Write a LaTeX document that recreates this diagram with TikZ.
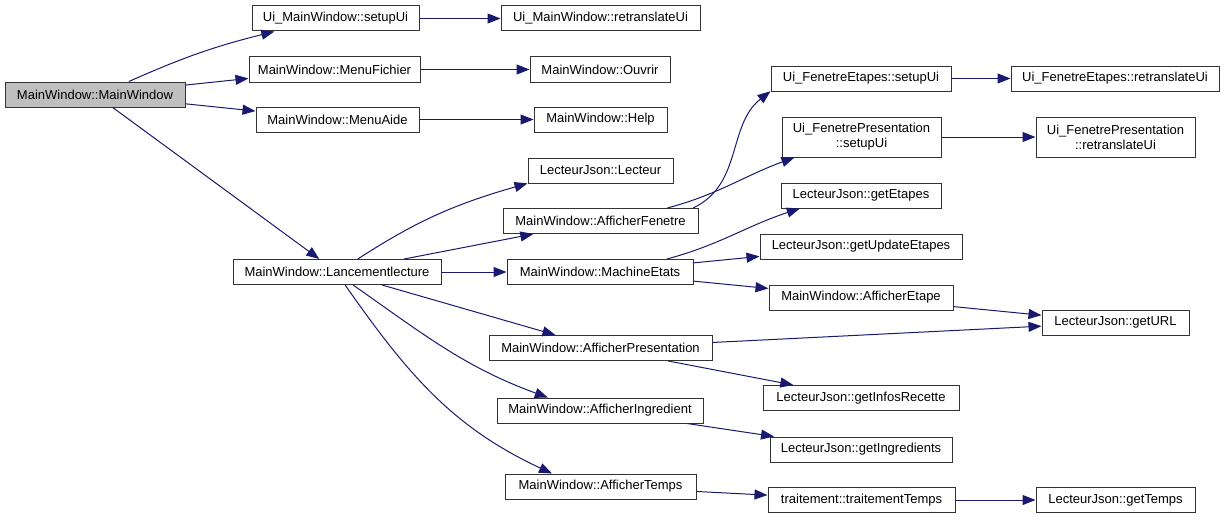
\documentclass[tikz,border=0pt]{standalone}
\usepackage{fontspec}
\setmainfont{Liberation Sans}
\usepackage{xcolor}
\definecolor{cEdge}{HTML}{191970}
\definecolor{cRoot}{HTML}{BFBFBF}
\definecolor{cLine}{HTML}{333333}
\usepackage{tikz}
\usetikzlibrary{arrows.meta}
\tikzset{
  node-box/.style={draw=cLine,line width=1pt,fill=white,minimum height=25pt,
    inner sep=0pt,align=center,font=\fontsize{13}{15}\selectfont},
  node-root/.style={fill=cRoot},
  node-tall/.style={minimum height=40pt},
  arrow/.style={-{Triangle[length=13pt,width=10pt]},line width=1pt,draw=cEdge},
}

\begin{document}
\begin{tikzpicture}[x=1pt,y=1pt]
  \useasboundingbox (0,0) rectangle (1225,-519);
  % column 1
  \node[node-box,node-root,minimum width=180] (mw) at (95,-94.5) {MainWindow::MainWindow};
  % column 2
  \node[node-box,minimum width=167] (uiSetup) at (335.5,-18.5) {Ui\_MainWindow::setupUi};
  \node[node-box,minimum width=171] (menuFichier) at (334.5,-69.5) {MainWindow::MenuFichier};
  \node[node-box,minimum width=163] (menuAide) at (337.5,-119.5) {MainWindow::MenuAide};
  \node[node-box,minimum width=208] (lancement) at (337,-272) {MainWindow::Lancementlecture};
  % column 3
  \node[node-box,minimum width=199] (uiRetranslate) at (600.5,-18.5) {Ui\_MainWindow::retranslateUi};
  \node[node-box,minimum width=140] (ouvrir) at (600,-69.5) {MainWindow::Ouvrir};
  \node[node-box,minimum width=133] (help) at (600.5,-119.5) {MainWindow::Help};
  \node[node-box,minimum width=145] (lecteur) at (600.5,-170.5) {LecteurJson::Lecteur};
  \node[node-box,minimum width=195] (affFenetre) at (600.5,-221) {MainWindow::AfficherFenetre};
  \node[node-box,minimum width=186] (machine) at (600,-272) {MainWindow::MachineEtats};
  \node[node-box,minimum width=223] (affPresentation) at (600.5,-348) {MainWindow::AfficherPresentation};
  \node[node-box,minimum width=206] (affIngredient) at (600,-410.5) {MainWindow::AfficherIngredient};
  \node[node-box,minimum width=191] (affTemps) at (600.5,-486.5) {MainWindow::AfficherTemps};
  % column 4
  \node[node-box,minimum width=180] (etapesSetup) at (861,-78.5) {Ui\_FenetreEtapes::setupUi};
  \node[node-box,node-tall,minimum width=159] (presSetup) at (861.5,-137) {Ui\_FenetrePresentation\\::setupUi};
  \node[node-box,minimum width=160] (getEtapes) at (861,-195.5) {LecteurJson::getEtapes};
  \node[node-box,minimum width=202] (getUpdate) at (861,-246.5) {LecteurJson::getUpdateEtapes};
  \node[node-box,minimum width=184] (affEtape) at (861,-297.5) {MainWindow::AfficherEtape};
  \node[node-box,minimum width=196] (getInfos) at (861,-398) {LecteurJson::getInfosRecette};
  \node[node-box,minimum width=182] (getIngredients) at (861,-449.5) {LecteurJson::getIngredients};
  \node[node-box,minimum width=187] (traitement) at (861.5,-500) {traitement::traitementTemps};
  % column 5
  \node[node-box,minimum width=208] (etapesRetranslate) at (1115,-78.5) {Ui\_FenetreEtapes::retranslateUi};
  \node[node-box,node-tall,minimum width=159] (presRetranslate) at (1115.5,-137) {Ui\_FenetrePresentation\\::retranslateUi};
  \node[node-box,minimum width=147] (getURL) at (1115.5,-322.5) {LecteurJson::getURL};
  \node[node-box,minimum width=159] (getTemps) at (1115.5,-500) {LecteurJson::getTemps};

  % calls
  \draw[arrow] (mw.21) to[out=24,in=194] (uiSetup.192);
  \draw[arrow] (mw) -- (menuFichier);
  \draw[arrow] (mw) -- (menuAide);
  \draw[arrow] (mw) -- (lancement);
  \draw[arrow] (uiSetup) -- (uiRetranslate);
  \draw[arrow] (menuFichier) -- (ouvrir);
  \draw[arrow] (menuAide) -- (help);
  \draw[arrow] (lancement.32) to[out=33,in=196] (lecteur.190);
  \draw[arrow] (lancement) -- (affFenetre);
  \draw[arrow] (lancement) -- (machine);
  \draw[arrow] (lancement) -- (affPresentation);
  \draw[arrow] (lancement.-39) to[out=-35,in=160] (affIngredient.166);
  \draw[arrow] (lancement.-58) to[out=-55,in=155] (affTemps.165);
  \draw[arrow] (affFenetre.8) to[out=25,in=218] (etapesSetup.188);
  \draw[arrow] (affFenetre.11) to[out=15,in=200] (presSetup.197);
  \draw[arrow] (etapesSetup) -- (etapesRetranslate);
  \draw[arrow] (presSetup) -- (presRetranslate);
  \draw[arrow] (machine.11) to[out=15,in=198] (getEtapes.192);
  \draw[arrow] (machine) -- (getUpdate);
  \draw[arrow] (machine) -- (affEtape);
  \draw[arrow] (affEtape) -- (getURL);
  \draw[arrow] (affPresentation) -- (getURL);
  \draw[arrow] (affPresentation) -- (getInfos);
  \draw[arrow] (affIngredient) -- (getIngredients);
  \draw[arrow] (affTemps) -- (traitement);
  \draw[arrow] (traitement) -- (getTemps);
\end{tikzpicture}
\end{document}
